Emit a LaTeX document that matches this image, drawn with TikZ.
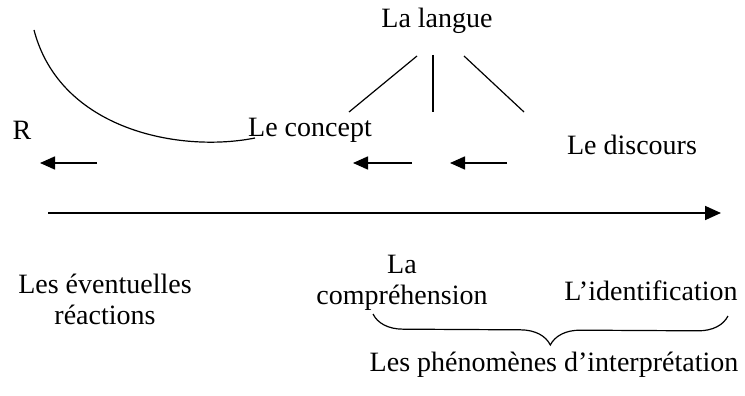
\documentclass[tikz,border=0pt]{standalone}
\usepackage{fontspec}
\setmainfont{Liberation Serif}
\usetikzlibrary{positioning,arrows.meta,decorations.pathreplacing}

\begin{document}
\begin{tikzpicture}[x=1pt,y=-1pt,
  every node/.style={inner sep=0pt,font=\fontsize{28}{31}\selectfont},
  link/.style={line width=1.2pt},
  leftarrow/.style={line width=1.6pt,-{Triangle[length=15pt,width=13pt]}}]
  \useasboundingbox (0,0) rectangle (745,396);
  \node (langue) at (437,21) {La langue};
  \node (r) at (22,130) {R};
  \node (concept) at (310,130) {Le concept};
  \node (discours) at (632,145) {Le discours};
  \node[align=center] (reactions) at (105,299) {Les éventuelles\\réactions};
  \node[align=center] (comprehension) at (402,283) {La\\compréhension};
  \node (identification) at (651,291) {L’identification};
  \node (phenomenes) at (554,365) {Les phénomènes d’interprétation};
  % the three lines below la langue
  \coordinate (l1) at (349,112);
  \coordinate (l2) at (433,112);
  \coordinate (l3) at (524,112);
  \draw[link] (417,56) -- (l1);
  \draw[link] (433,55) -- (l2);
  \draw[link] (464,56) -- (l3);
  % the curve
  \coordinate (arcstart) at (34,30);
  \coordinate (arcend) at (255,138);
  \draw[link] (arcstart) .. controls (60,130) and (180,153) .. (arcend);
  % small arrows
  \draw[leftarrow] (97,163) -- (40,163);
  \draw[leftarrow] (412,163) -- (353,163);
  \draw[leftarrow] (507,163) -- (450,163);
  % long arrow
  \coordinate (axisstart) at (48,213);
  \coordinate (axisend) at (721,213);
  \draw[line width=1.8pt,-{Triangle[length=16pt,width=14pt]}] (axisstart) -- (axisend);
  % brace
  \draw[link,decorate,decoration={brace,amplitude=30pt,mirror}] (373,314) -- (728,316);
\end{tikzpicture}
\end{document}
